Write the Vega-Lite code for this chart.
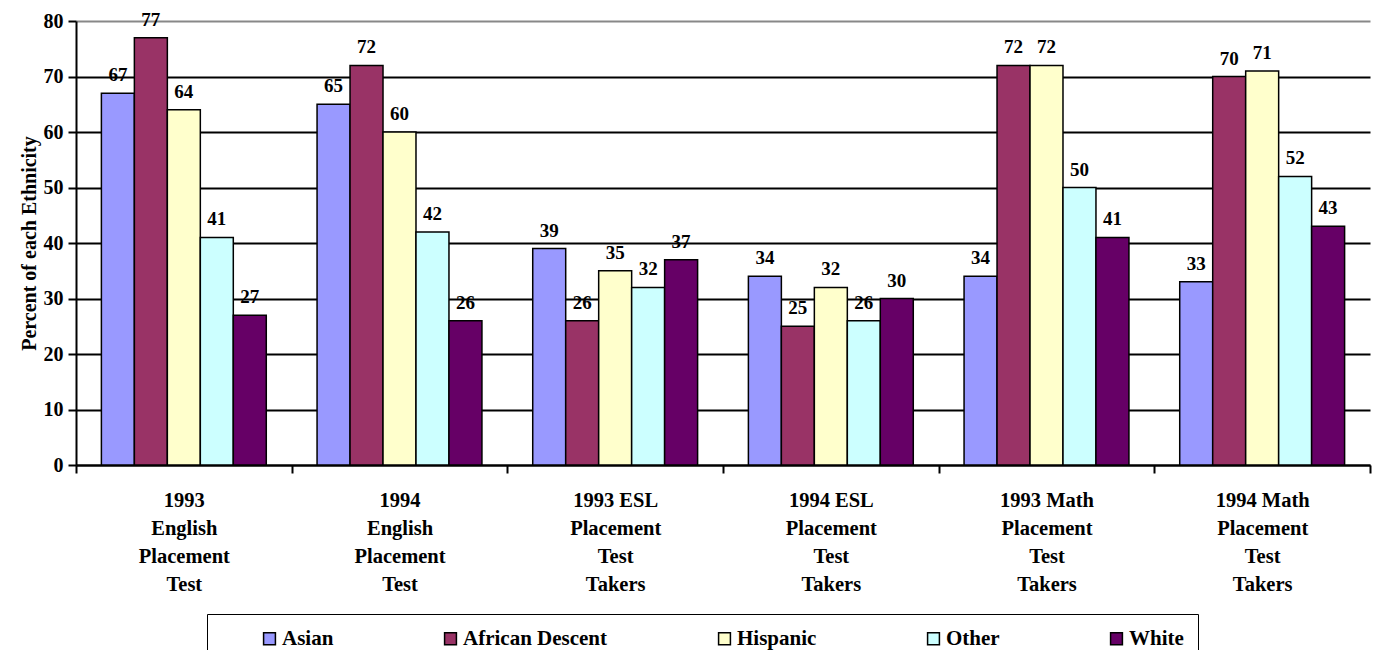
{
  "$schema": "https://vega.github.io/schema/vega-lite/v6.json",
  "width": 1294,
  "height": 444,
  "autosize": {"type": "none"},
  "padding": {"left": 76, "top": 21, "right": 5, "bottom": 185},
  "background": "white",
  "config": {
    "font": "Liberation Serif",
    "view": {"stroke": null},
    "axis": {"labelFont": "Liberation Serif", "titleFont": "Liberation Serif", "labelColor": "black", "titleColor": "black"}
  },
  "data": {
    "values": [
      {"test": "1993|English|Placement|Test", "eth": "Asian", "pct": 67},
      {"test": "1993|English|Placement|Test", "eth": "African Descent", "pct": 77},
      {"test": "1993|English|Placement|Test", "eth": "Hispanic", "pct": 64},
      {"test": "1993|English|Placement|Test", "eth": "Other", "pct": 41},
      {"test": "1993|English|Placement|Test", "eth": "White", "pct": 27},
      {"test": "1994|English|Placement|Test", "eth": "Asian", "pct": 65},
      {"test": "1994|English|Placement|Test", "eth": "African Descent", "pct": 72},
      {"test": "1994|English|Placement|Test", "eth": "Hispanic", "pct": 60},
      {"test": "1994|English|Placement|Test", "eth": "Other", "pct": 42},
      {"test": "1994|English|Placement|Test", "eth": "White", "pct": 26},
      {"test": "1993 ESL|Placement|Test|Takers", "eth": "Asian", "pct": 39},
      {"test": "1993 ESL|Placement|Test|Takers", "eth": "African Descent", "pct": 26},
      {"test": "1993 ESL|Placement|Test|Takers", "eth": "Hispanic", "pct": 35},
      {"test": "1993 ESL|Placement|Test|Takers", "eth": "Other", "pct": 32},
      {"test": "1993 ESL|Placement|Test|Takers", "eth": "White", "pct": 37},
      {"test": "1994 ESL|Placement|Test|Takers", "eth": "Asian", "pct": 34},
      {"test": "1994 ESL|Placement|Test|Takers", "eth": "African Descent", "pct": 25},
      {"test": "1994 ESL|Placement|Test|Takers", "eth": "Hispanic", "pct": 32},
      {"test": "1994 ESL|Placement|Test|Takers", "eth": "Other", "pct": 26},
      {"test": "1994 ESL|Placement|Test|Takers", "eth": "White", "pct": 30},
      {"test": "1993 Math|Placement|Test|Takers", "eth": "Asian", "pct": 34},
      {"test": "1993 Math|Placement|Test|Takers", "eth": "African Descent", "pct": 72},
      {"test": "1993 Math|Placement|Test|Takers", "eth": "Hispanic", "pct": 72},
      {"test": "1993 Math|Placement|Test|Takers", "eth": "Other", "pct": 50},
      {"test": "1993 Math|Placement|Test|Takers", "eth": "White", "pct": 41},
      {"test": "1994 Math|Placement|Test|Takers", "eth": "Asian", "pct": 33},
      {"test": "1994 Math|Placement|Test|Takers", "eth": "African Descent", "pct": 70},
      {"test": "1994 Math|Placement|Test|Takers", "eth": "Hispanic", "pct": 71},
      {"test": "1994 Math|Placement|Test|Takers", "eth": "Other", "pct": 52},
      {"test": "1994 Math|Placement|Test|Takers", "eth": "White", "pct": 43}
    ]
  },
  "encoding": {
    "x": {
      "field": "test", "type": "nominal", "sort": null,
      "scale": {"paddingInner": 0, "paddingOuter": 0},
      "axis": {
        "title": null, "labelAngle": 0, "labelExpr": "split(datum.label, '|')",
        "labelFont": "Liberation Serif",
        "labelFontSize": 20.5, "labelFontWeight": "bold", "labelLineHeight": 28,
        "labelPadding": 17, "labelLimit": 300,
        "tickBand": "extent", "tickSize": 8, "tickColor": "black", "tickWidth": 2,
        "domainColor": "black", "domainWidth": 2, "grid": false
      }
    },
    "xOffset": {
      "field": "eth", "type": "nominal",
      "sort": ["Asian", "African Descent", "Hispanic", "Other", "White"],
      "scale": {"paddingInner": 0, "paddingOuter": 0.77}
    },
    "y": {
      "field": "pct", "type": "quantitative",
      "scale": {"domain": [0, 80], "nice": false},
      "axis": {
        "title": "Percent of each Ethnicity", "titleFont": "Liberation Serif", "titleFontSize": 20, "titleFontWeight": "bold", "titlePadding": 4,
        "values": [0, 10, 20, 30, 40, 50, 60, 70, 80],
        "labelFont": "Liberation Serif",
        "labelFontSize": 20, "labelFontWeight": "bold", "labelPadding": 5,
        "tickSize": 8, "tickColor": "black", "tickWidth": 2,
        "domainColor": "black", "domainWidth": 2,
        "grid": true, "gridWidth": 2,
        "gridColor": {"condition": {"test": "datum.value === 80", "value": "#888888"}, "value": "black"}
      }
    }
  },
  "layer": [
    {
      "mark": {"type": "bar", "stroke": "black", "strokeWidth": 1.5},
      "encoding": {
        "color": {
          "field": "eth", "type": "nominal",
          "sort": ["Asian", "African Descent", "Hispanic", "Other", "White"],
          "scale": {"domain": ["Asian", "African Descent", "Hispanic", "Other", "White"], "range": ["#9999FF", "#993366", "#FFFFCC", "#CCFFFF", "#660066"]},
          "legend": {
            "orient": "none", "legendX": 131, "legendY": 593, "direction": "horizontal",
            "title": " ", "titleOrient": "left", "titlePadding": 38, "titleFontSize": 19,
            "labelFont": "Liberation Serif", "labelFontSize": 21, "labelFontWeight": "bold", "labelColor": "black",
            "labelOffset": 2, "labelLimit": 300,
            "symbolType": "square", "symbolSize": 140, "symbolStrokeColor": "black", "symbolStrokeWidth": 1.5, "symbolOpacity": 1,
            "columnPadding": 106, "padding": 14,
            "strokeColor": "black", "fillColor": "white"
          }
        }
      }
    },
    {
      "mark": {"type": "text", "baseline": "alphabetic", "dy": -12, "fontSize": 19, "fontWeight": "bold", "font": "Liberation Serif", "color": "black"},
      "encoding": {
        "text": {"field": "pct", "type": "quantitative"}
      }
    }
  ]
}
